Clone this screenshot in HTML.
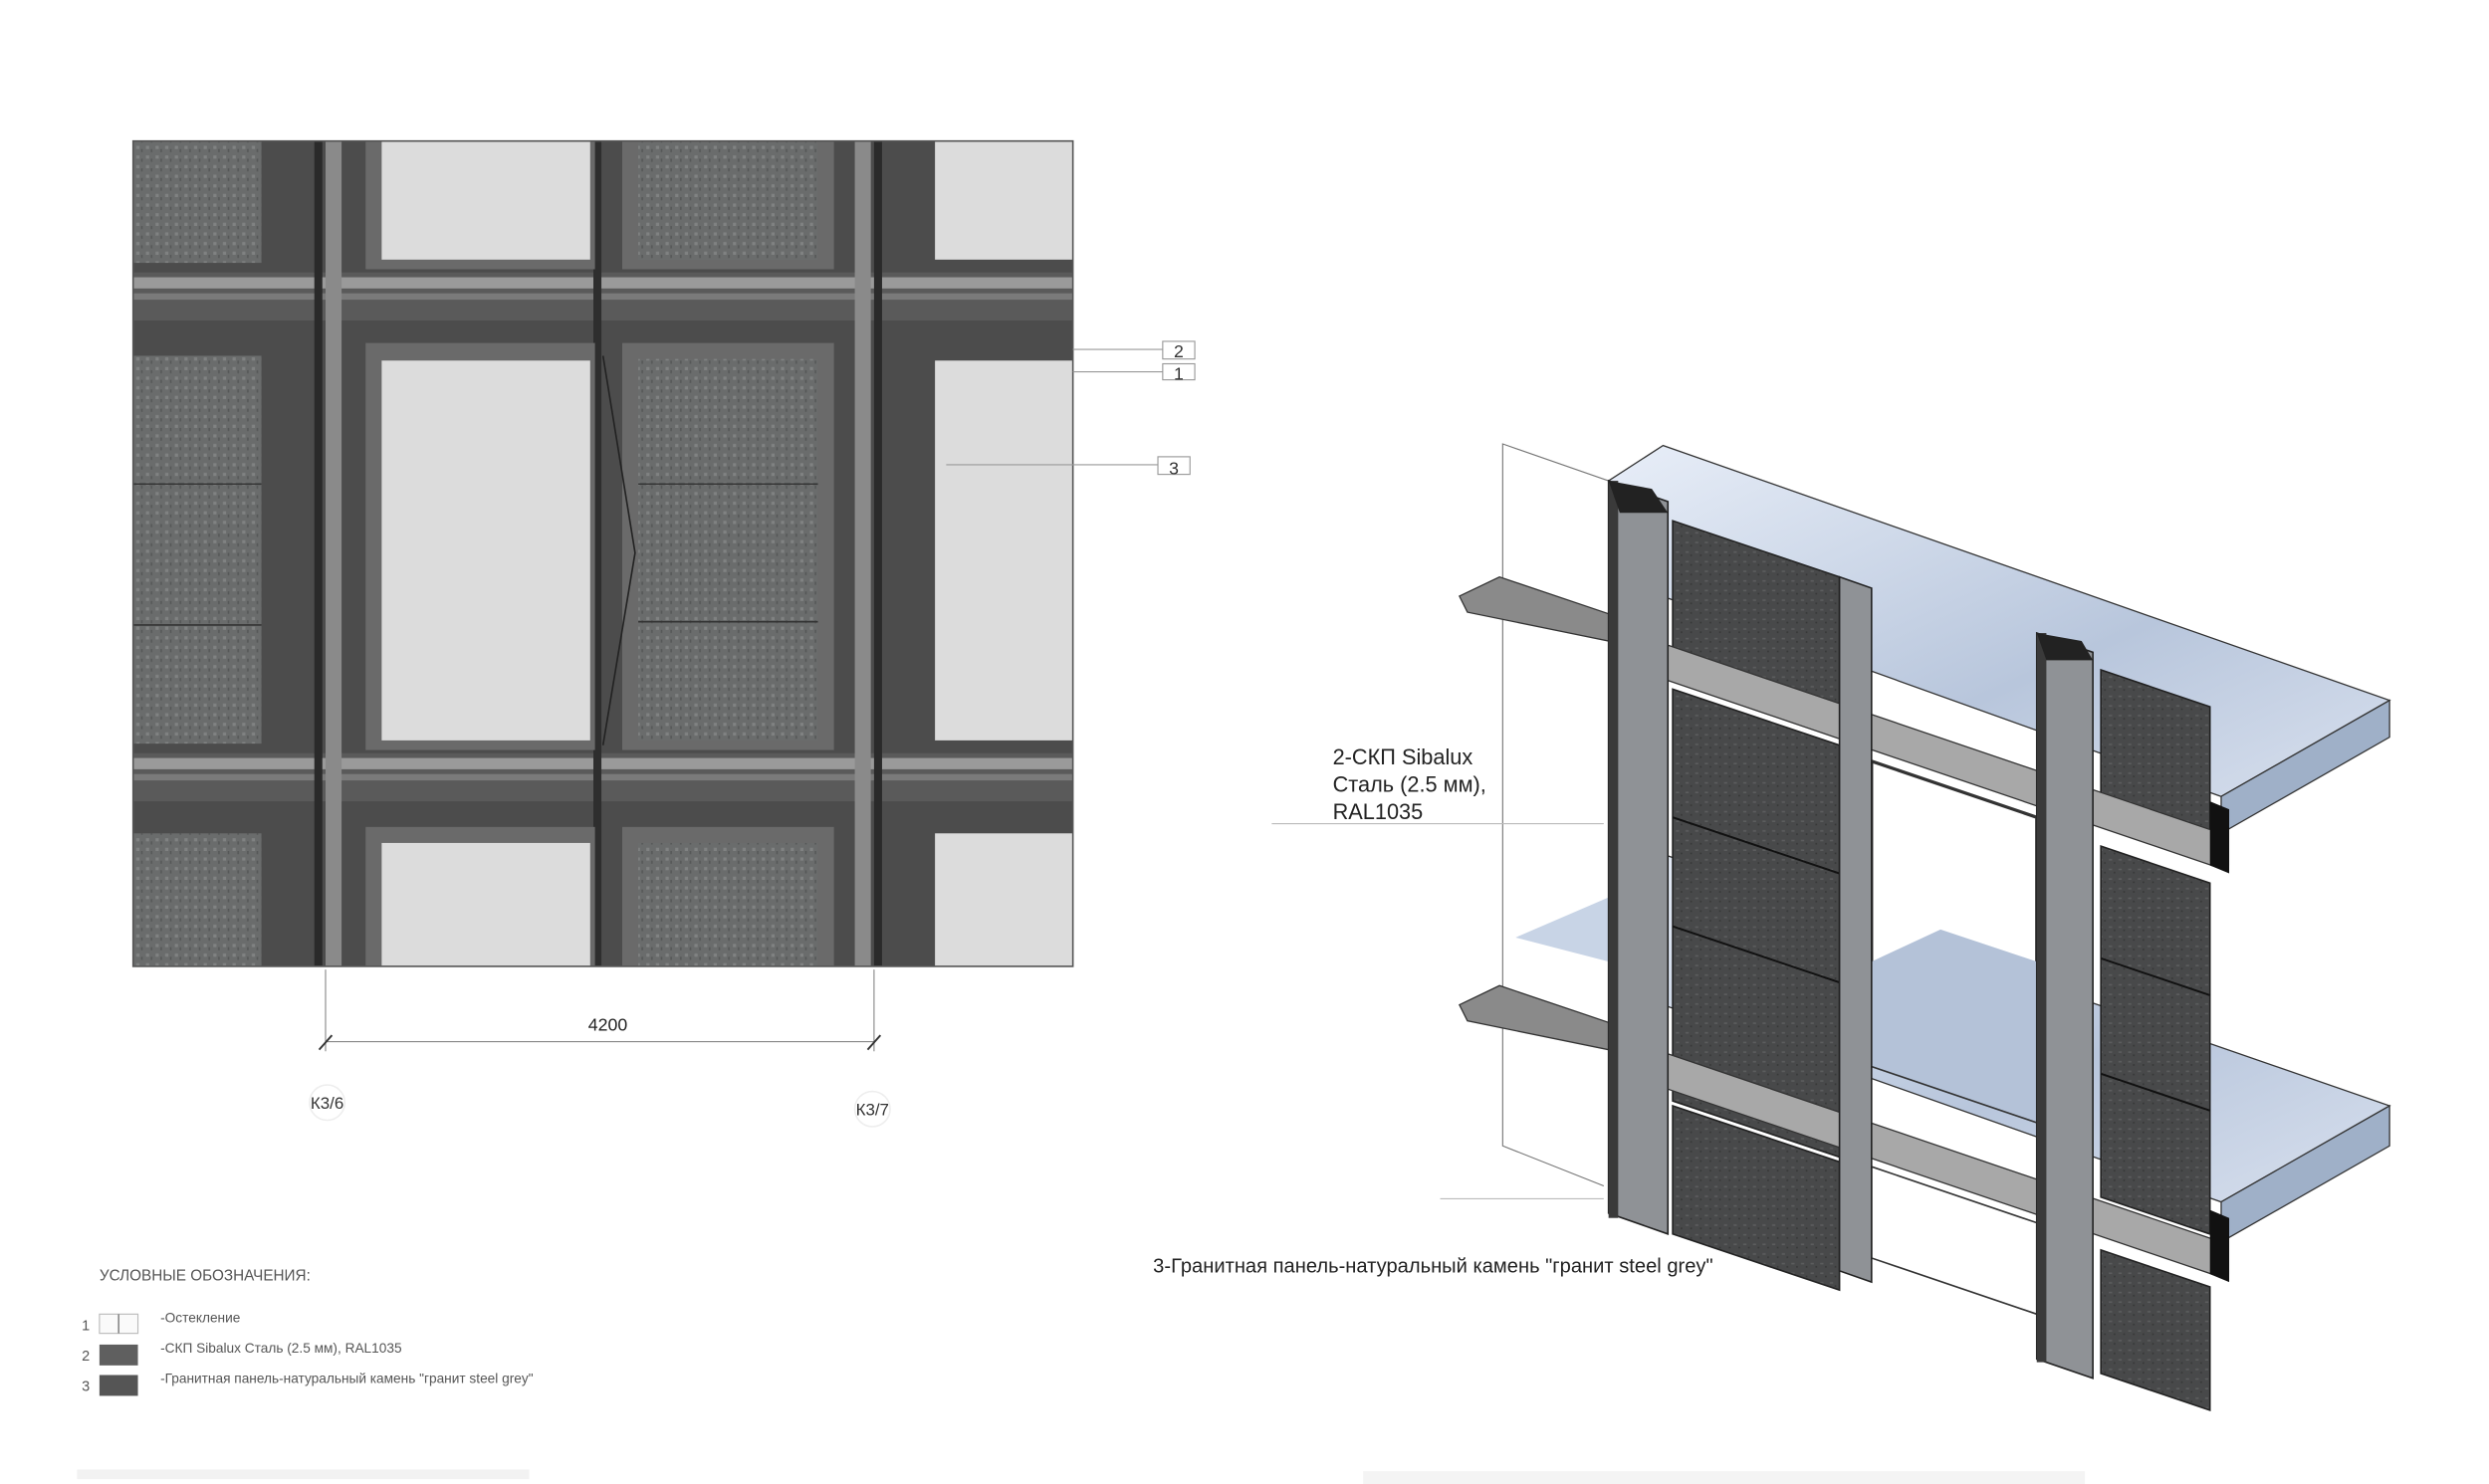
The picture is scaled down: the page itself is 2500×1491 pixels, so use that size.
<!DOCTYPE html>
<html><head><meta charset="utf-8"><style>
html,body{margin:0;padding:0;background:#fff;}
svg{display:block;}
text{font-family:"Liberation Sans","Noto Sans CJK SC",sans-serif;}
</style></head><body>
<svg width="2500" height="1491" viewBox="0 0 1552 926" preserveAspectRatio="none" xmlns="http://www.w3.org/2000/svg">
<defs>
<pattern id="gr" width="6" height="6" patternUnits="userSpaceOnUse">
<rect width="6" height="6" fill="#6a6c6c"/><rect x="1" y="1" width="2" height="2" fill="#808282"/><rect x="4" y="3" width="1" height="2" fill="#565858"/></pattern>
<pattern id="gr2" width="6" height="6" patternUnits="userSpaceOnUse">
<rect width="6" height="6" fill="#48494a"/><rect x="1" y="2" width="2" height="1" fill="#5c5d5e"/><rect x="4" y="4" width="1" height="1" fill="#353636"/></pattern>
<linearGradient id="gl" x1="0" y1="0" x2="1" y2="1"><stop offset="0" stop-color="#e8eef8"/><stop offset="0.6" stop-color="#b8c6dc"/><stop offset="1" stop-color="#d8e0ee"/></linearGradient>
</defs>
<rect width="1552" height="926" fill="#fff"/>

<!-- LEFT ELEVATION -->
<rect x="83" y="88" width="586" height="515" fill="#4c4c4c"/>
<!-- horizontal bands -->
<rect x="83" y="170" width="586" height="30" fill="#5a5a5a"/>
<rect x="83" y="173" width="586" height="7" fill="#9a9a9a"/>
<rect x="83" y="183" width="586" height="4" fill="#7a7a7a"/>
<rect x="83" y="470" width="586" height="30" fill="#5a5a5a"/>
<rect x="83" y="473" width="586" height="7" fill="#9a9a9a"/>
<rect x="83" y="483" width="586" height="4" fill="#7a7a7a"/>
<!-- vertical frames light strips -->
<rect x="203" y="88" width="10" height="515" fill="#8a8a8a"/>
<rect x="533" y="88" width="10" height="515" fill="#8a8a8a"/>
<rect x="370" y="88" width="5" height="515" fill="#2e2e2e"/>
<rect x="196" y="88" width="5" height="515" fill="#2a2a2a"/>
<rect x="545" y="88" width="5" height="515" fill="#2a2a2a"/>
<!-- column A granite -->
<rect x="83" y="88" width="80" height="76" fill="url(#gr)"/>
<rect x="83" y="222" width="80" height="242" fill="url(#gr)"/>
<rect x="83" y="520" width="80" height="83" fill="url(#gr)"/>
<line x1="83" y1="302" x2="163" y2="302" stroke="#333"/><line x1="83" y1="390" x2="163" y2="390" stroke="#333"/>
<!-- col B glass -->
<rect x="228" y="88" width="143" height="80" fill="#6a6a6a"/>
<rect x="238" y="88" width="130" height="74" fill="#dcdcdc"/>
<rect x="228" y="214" width="143" height="254" fill="#6a6a6a"/>
<rect x="238" y="225" width="130" height="237" fill="#dcdcdc"/>
<rect x="228" y="516" width="143" height="87" fill="#6a6a6a"/>
<rect x="238" y="526" width="130" height="77" fill="#dcdcdc"/>
<!-- col C granite -->
<rect x="388" y="88" width="132" height="80" fill="#6a6a6a"/>
<rect x="398" y="88" width="112" height="74" fill="url(#gr)"/>
<rect x="388" y="214" width="132" height="254" fill="#6a6a6a"/>
<rect x="398" y="224" width="112" height="238" fill="url(#gr)"/>
<line x1="398" y1="302" x2="510" y2="302" stroke="#333"/><line x1="398" y1="388" x2="510" y2="388" stroke="#333"/>
<rect x="388" y="516" width="132" height="87" fill="#6a6a6a"/>
<rect x="398" y="526" width="112" height="77" fill="url(#gr)"/>
<polyline points="376,222 396,345 376,465" fill="none" stroke="#222" stroke-width="1"/>
<!-- col D glass -->
<rect x="583" y="88" width="86" height="74" fill="#dcdcdc"/>
<rect x="583" y="225" width="86" height="237" fill="#dcdcdc"/>
<rect x="583" y="520" width="86" height="83" fill="#dcdcdc"/>
<rect x="83" y="88" width="586" height="515" fill="none" stroke="#555" stroke-width="1"/>
<!-- callouts -->
<g stroke="#999" stroke-width="0.7" fill="none">
<line x1="669" y1="218" x2="725" y2="218"/><line x1="669" y1="232" x2="725" y2="232"/><line x1="590" y1="290" x2="722" y2="290"/>
<rect x="725" y="213" width="20" height="11"/><rect x="725" y="227" width="20" height="10"/><rect x="722" y="285" width="20" height="11"/>
</g>
<text x="735" y="223" font-size="11" text-anchor="middle" fill="#333">2</text>
<text x="735" y="237" font-size="11" text-anchor="middle" fill="#333">1</text>
<text x="732" y="296" font-size="11" text-anchor="middle" fill="#333">3</text>
<!-- dimension -->
<g stroke="#888" stroke-width="0.7">
<line x1="203" y1="605" x2="203" y2="656"/><line x1="545" y1="605" x2="545" y2="656"/>
<line x1="203" y1="650" x2="545" y2="650"/>
<line x1="199" y1="655" x2="207" y2="646" stroke="#333" stroke-width="1.2"/><line x1="541" y1="655" x2="549" y2="646" stroke="#333" stroke-width="1.2"/>
</g>
<text x="379" y="643" font-size="11" text-anchor="middle" fill="#222">4200</text>
<circle cx="204" cy="688" r="11" fill="none" stroke="#eee"/><circle cx="544" cy="692" r="11" fill="none" stroke="#eee"/>
<text x="204" y="692" font-size="10.5" text-anchor="middle" fill="#333">К3/6</text>
<text x="544" y="696" font-size="10.5" text-anchor="middle" fill="#333">К3/7</text>
<!-- legend -->
<text x="62" y="799" font-size="9.5" fill="#555">УСЛОВНЫЕ ОБОЗНАЧЕНИЯ:</text>
<text x="51" y="830" font-size="9" fill="#555">1</text><rect x="62" y="820" width="24" height="12" fill="#fafafa" stroke="#bbb" stroke-width="0.7"/><line x1="74" y1="820" x2="74" y2="832" stroke="#888"/>
<text x="100" y="825" font-size="8.5" fill="#555">-Остекление</text>
<text x="51" y="849" font-size="9" fill="#555">2</text><rect x="62" y="839" width="24" height="13" fill="#5f5f5f"/>
<text x="100" y="844" font-size="8.5" fill="#555">-СКП Sibalux Сталь (2.5 мм), RAL1035</text>
<text x="51" y="868" font-size="9" fill="#555">3</text><rect x="62" y="858" width="24" height="13" fill="#555"/>
<text x="100" y="863" font-size="8.5" fill="#555">-Гранитная панель-натуральный камень  "гранит steel grey"</text>
<rect x="48" y="917" width="282" height="6" fill="#f2f2f2"/>
<rect x="850" y="918" width="450" height="8" fill="#f4f4f4"/>
<text x="1090" y="935" font-size="13" fill="#e6e6e6">НАИМЕНОВАНИЕ ЛИСТА</text>

<!-- RIGHT ISO -->
<g stroke="#777" stroke-width="0.7" fill="none">
<polyline points="1003,300 937,277 937,715 1000,740"/>
<line x1="793" y1="514" x2="1000" y2="514" stroke="#bbb"/>
<line x1="898" y1="748" x2="1000" y2="748" stroke="#bbb"/>
</g>
<!-- slabs -->
<polygon points="1003,300 1037,278 1490,437 1385,497 1003,360" fill="url(#gl)" stroke="#333" stroke-width="0.8"/>
<polygon points="1490,437 1490,460 1385,520 1385,497" fill="#9fb0c8" stroke="#333" stroke-width="0.8"/>
<polygon points="1003,555 1037,533 1490,690 1385,750 1003,615" fill="url(#gl)" stroke="#333" stroke-width="0.8"/>
<polygon points="1490,690 1490,715 1385,775 1385,750" fill="#9fb0c8" stroke="#333" stroke-width="0.8"/>
<polygon points="945,585 1003,560 1003,600" fill="#c8d4e6"/>
<!-- left ledges -->
<polygon points="910,372 935,360 1003,383 1003,400 915,382" fill="#8a8a8a" stroke="#333" stroke-width="0.8"/>
<polygon points="910,627 935,615 1003,638 1003,655 915,637" fill="#8a8a8a" stroke="#333" stroke-width="0.8"/>
<!-- granite panels -->
<polygon points="1043,325 1147,360 1147,450 1043,415" fill="url(#gr2)" stroke="#222"/>
<polygon points="1043,430 1147,465 1147,722 1043,687" fill="url(#gr2)" stroke="#222"/>
<line x1="1043" y1="510" x2="1147" y2="545" stroke="#111" stroke-width="1.2"/>
<line x1="1043" y1="578" x2="1147" y2="613" stroke="#111" stroke-width="1.2"/>
<polygon points="1043,690 1147,725 1147,805 1043,770" fill="url(#gr2)" stroke="#222"/>
<polygon points="1310,418 1378,441 1378,520 1310,497" fill="url(#gr2)" stroke="#222"/>
<polygon points="1310,528 1378,551 1378,770 1310,747" fill="url(#gr2)" stroke="#222"/>
<line x1="1310" y1="598" x2="1378" y2="621" stroke="#111" stroke-width="1.2"/>
<line x1="1310" y1="670" x2="1378" y2="693" stroke="#111" stroke-width="1.2"/>
<polygon points="1310,780 1378,803 1378,880 1310,857" fill="url(#gr2)" stroke="#222"/>
<!-- window opening -->
<polygon points="1167,475 1270,510 1270,700 1167,665" fill="#fff" stroke="#333" stroke-width="2"/>
<polygon points="1167,600 1210,580 1270,600 1270,700 1167,665" fill="#b4c2d8"/>
<polygon points="1167,728 1270,763 1270,820 1167,785" fill="#fff" stroke="#333"/>
<!-- transoms -->
<polygon points="1003,390 1385,520 1385,542 1003,412" fill="#a8a8a8" stroke="#333" stroke-width="0.8"/>
<polygon points="1003,645 1385,775 1385,797 1003,667" fill="#a8a8a8" stroke="#333" stroke-width="0.8"/>
<polygon points="1378,500 1390,505 1390,545 1378,540" fill="#111"/>
<polygon points="1378,755 1390,760 1390,800 1378,795" fill="#111"/>
<!-- columns -->
<polygon points="1003,300 1040,313 1040,770 1003,757" fill="#8f9296" stroke="#222" stroke-width="1"/>
<rect x="1003" y="300" width="6" height="460" fill="#3a3a3a"/>
<polygon points="1147,360 1167,367 1167,800 1147,793" fill="#8f9296" stroke="#222"/>
<polygon points="1270,395 1305,407 1305,860 1270,848" fill="#8f9296" stroke="#222" stroke-width="1"/>
<rect x="1270" y="395" width="6" height="455" fill="#3a3a3a"/>
<polygon points="1003,300 1030,305 1040,320 1010,320" fill="#222"/>
<polygon points="1270,395 1298,400 1305,412 1276,412" fill="#222"/>
<!-- labels -->
<text x="831" y="477" font-size="13.5" fill="#222">2-СКП Sibalux</text>
<text x="831" y="494" font-size="13.5" fill="#222">Сталь (2.5 мм),</text>
<text x="831" y="511" font-size="13.5" fill="#222">RAL1035</text>
<text x="719" y="794" font-size="12.5" fill="#222">3-Гранитная панель-натуральный камень  "гранит steel grey"</text>
</svg>
</body></html>
